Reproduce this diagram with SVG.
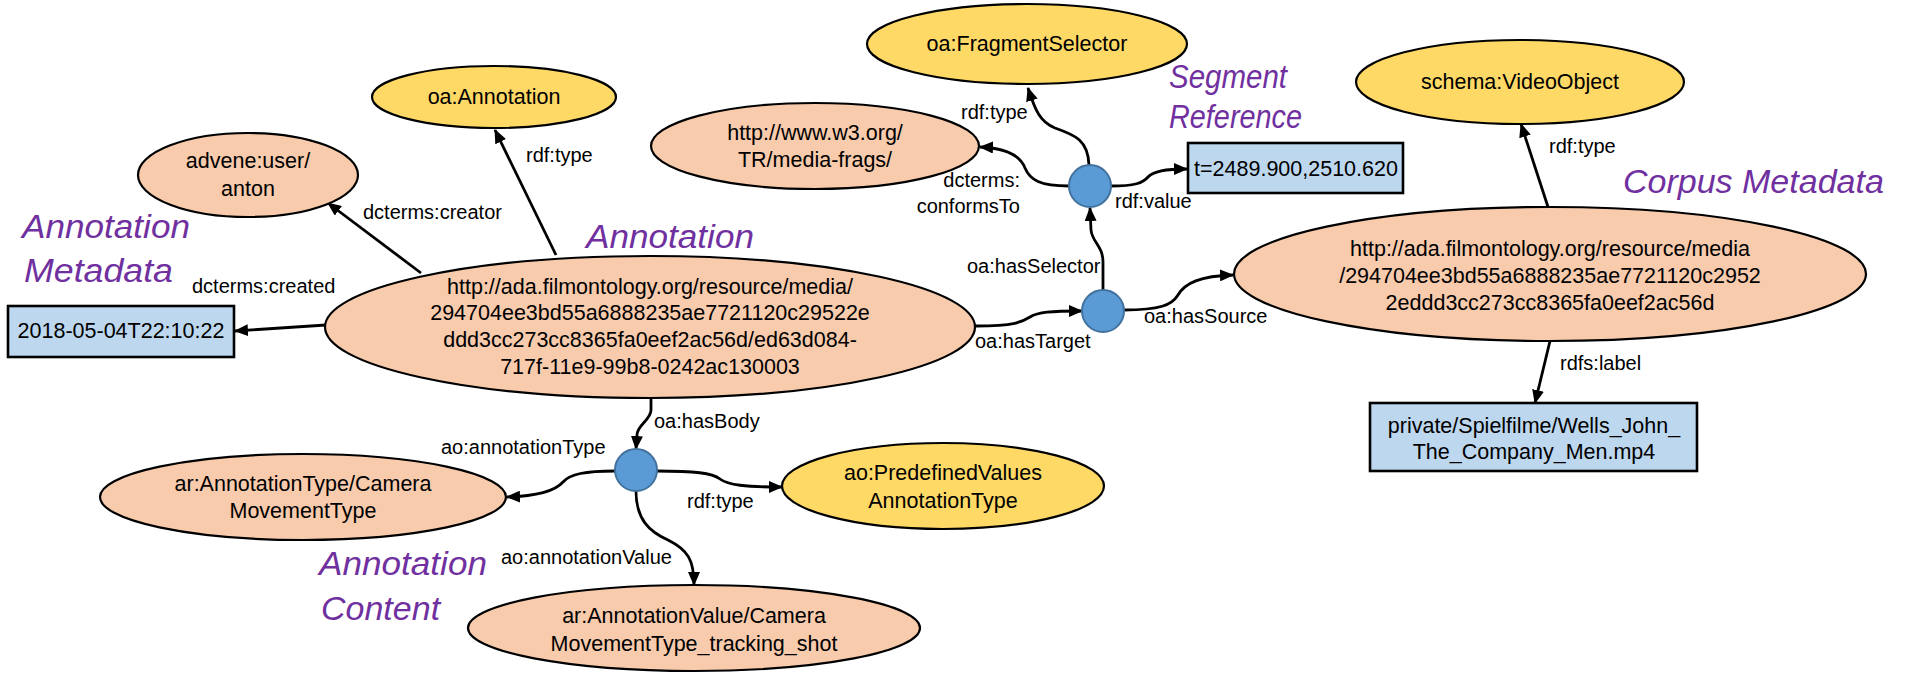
<svg xmlns="http://www.w3.org/2000/svg" width="1909" height="674" viewBox="0 0 1909 674">
<style>
.res{fill:#F8CBAD;stroke:#000;stroke-width:2.2}
.cls{fill:#FFD966;stroke:#000;stroke-width:2.2}
.lit{fill:#BDD7EE;stroke:#000;stroke-width:2.6}
.hub{fill:#5B9BD5;stroke:#41719C;stroke-width:2}
.nt{font-family:"Liberation Sans",Arial,sans-serif;font-size:21.5px;fill:#000;text-anchor:middle}
.lb{font-family:"Liberation Sans",Arial,sans-serif;font-size:20px;fill:#000}
.ttl{font-family:"Liberation Sans",Arial,sans-serif;font-size:34px;font-style:italic;fill:#7030A0}
.e{fill:none;stroke:#000;stroke-width:2.8;marker-end:url(#ah)}
</style>
<defs>
<marker id="ah" markerUnits="userSpaceOnUse" markerWidth="14" markerHeight="12" refX="13" refY="6" orient="auto">
<path d="M0,0 L14,6 L0,12 z" fill="#000"/>
</marker>
</defs>
<rect width="1909" height="674" fill="#fff"/>

<g id="connectors">
<path class="e" d="M421,273 L328,203"/>
<path class="e" d="M326,325 L235,331"/>
<path class="e" d="M556,255 L495,130"/>
<path class="e" d="M976,326 C1015,326 1022,322 1030,317 C1038,312 1050,311 1082,311"/>
<path class="e" d="M1124,310 C1160,310 1172,305 1178,295 C1185,283 1200,276 1233,275"/>
<path class="e" d="M1103,290 L1103,262 C1103,246 1092,242 1091,230 L1090,208"/>
<path class="e" d="M1089,165 C1088,140 1075,135 1055,128 C1040,122 1035,110 1028,88"/>
<path class="e" d="M1069,186 C1040,186 1030,180 1025,168 C1020,155 1005,148 980,147"/>
<path class="e" d="M1111,186 C1135,186 1143,183 1148,177 C1153,171 1165,169 1187,169"/>
<path class="e" d="M1549,210 L1521,124"/>
<path class="e" d="M1550,341 L1535,403"/>
<path class="e" d="M651,398 L651,410 C651,420 637,425 637,435 L636,449"/>
<path class="e" d="M615,471 C585,471 570,474 563,482 C556,490 540,496 507,497"/>
<path class="e" d="M657,471 C695,471 712,473 720,479 C728,485 745,487 782,487"/>
<path class="e" d="M636,491 C636,520 650,532 668,540 C688,550 694,560 694,585"/>
<text class="lb" x="363" y="219">dcterms:creator</text>
<text class="lb" x="192" y="293">dcterms:created</text>
<text class="lb" x="526" y="162">rdf:type</text>
<text class="lb" x="975" y="348">oa:hasTarget</text>
<text class="lb" x="1144" y="323">oa:hasSource</text>
<text class="lb" x="967" y="273">oa:hasSelector</text>
<text class="lb" x="961" y="119">rdf:type</text>
<text class="lb" x="1020" y="187" text-anchor="end">dcterms:</text>
<text class="lb" x="1020" y="213" text-anchor="end">conformsTo</text>
<text class="lb" x="1115" y="208">rdf:value</text>
<text class="lb" x="1549" y="153">rdf:type</text>
<text class="lb" x="1560" y="370">rdfs:label</text>
<text class="lb" x="654" y="428">oa:hasBody</text>
<text class="lb" x="441" y="454">ao:annotationType</text>
<text class="lb" x="687" y="508">rdf:type</text>
<text class="lb" x="501" y="564">ao:annotationValue</text>
</g>

<g id="title-annotation-metadata">
<text class="ttl" x="22" y="238" textLength="168" lengthAdjust="spacingAndGlyphs">Annotation</text>
<text class="ttl" x="24" y="282" textLength="149" lengthAdjust="spacingAndGlyphs">Metadata</text>
</g>
<g id="title-annotation"><text class="ttl" x="586" y="248" textLength="168" lengthAdjust="spacingAndGlyphs">Annotation</text></g>
<g id="title-segment-reference">
<text class="ttl" x="1169" y="88" textLength="118" lengthAdjust="spacingAndGlyphs">Segment</text>
<text class="ttl" x="1169" y="128" textLength="133" lengthAdjust="spacingAndGlyphs">Reference</text>
</g>
<g id="title-corpus-metadata"><text class="ttl" x="1623" y="193">Corpus Metadata</text></g>
<g id="title-annotation-content">
<text class="ttl" x="319" y="575" textLength="168" lengthAdjust="spacingAndGlyphs">Annotation</text>
<text class="ttl" x="321" y="620">Content</text>
</g>

<g id="node-annotation">
<ellipse class="res" cx="650" cy="327" rx="325" ry="71"/>
<text class="nt"><tspan x="650" y="294">http://ada.filmontology.org/resource/media/</tspan><tspan x="650" y="320">294704ee3bd55a6888235ae7721120c29522e</tspan><tspan x="650" y="347">ddd3cc273cc8365fa0eef2ac56d/ed63d084-</tspan><tspan x="650" y="374">717f-11e9-99b8-0242ac130003</tspan></text>
</g>
<g id="node-advene-user">
<ellipse class="res" cx="248" cy="175" rx="110" ry="42"/>
<text class="nt"><tspan x="248" y="168">advene:user/</tspan><tspan x="248" y="196">anton</tspan></text>
</g>
<g id="node-created">
<rect class="lit" x="8" y="306" width="226" height="51"/>
<text class="nt" x="121" y="338">2018-05-04T22:10:22</text>
</g>
<g id="node-oa-annotation">
<ellipse class="cls" cx="494" cy="97" rx="122" ry="31"/>
<text class="nt" x="494" y="104">oa:Annotation</text>
</g>
<g id="node-target-hub"><circle class="hub" cx="1103" cy="311" r="21"/></g>
<g id="node-selector-hub"><circle class="hub" cx="1090" cy="186" r="21"/></g>
<g id="node-fragment-selector">
<ellipse class="cls" cx="1027" cy="44" rx="160" ry="40"/>
<text class="nt" x="1027" y="51">oa:FragmentSelector</text>
</g>
<g id="node-media-frags">
<ellipse class="res" cx="815" cy="146" rx="164" ry="43"/>
<text class="nt"><tspan x="815" y="140">http://www.w3.org/</tspan><tspan x="815" y="167">TR/media-frags/</tspan></text>
</g>
<g id="node-time-value">
<rect class="lit" x="1188" y="143" width="215" height="50"/>
<text class="nt" x="1296" y="176">t=2489.900,2510.620</text>
</g>
<g id="node-media">
<ellipse class="res" cx="1550" cy="274" rx="316" ry="67"/>
<text class="nt"><tspan x="1550" y="256">http://ada.filmontology.org/resource/media</tspan><tspan x="1550" y="283">/294704ee3bd55a6888235ae7721120c2952</tspan><tspan x="1550" y="310">2eddd3cc273cc8365fa0eef2ac56d</tspan></text>
</g>
<g id="node-video-object">
<ellipse class="cls" cx="1520" cy="82" rx="164" ry="42"/>
<text class="nt" x="1520" y="89">schema:VideoObject</text>
</g>
<g id="node-media-label">
<rect class="lit" x="1370" y="403" width="327" height="68"/>
<text class="nt"><tspan x="1534" y="433">private/Spielfilme/Wells_John_</tspan><tspan x="1534" y="459">The_Company_Men.mp4</tspan></text>
</g>
<g id="node-body-hub"><circle class="hub" cx="636" cy="470" r="21"/></g>
<g id="node-annotation-type">
<ellipse class="res" cx="303" cy="497" rx="203" ry="43"/>
<text class="nt"><tspan x="303" y="491">ar:AnnotationType/Camera</tspan><tspan x="303" y="518">MovementType</tspan></text>
</g>
<g id="node-predefined-values">
<ellipse class="cls" cx="943" cy="486" rx="161" ry="43"/>
<text class="nt"><tspan x="943" y="480">ao:PredefinedValues</tspan><tspan x="943" y="508">AnnotationType</tspan></text>
</g>
<g id="node-annotation-value">
<ellipse class="res" cx="694" cy="628" rx="226" ry="43"/>
<text class="nt"><tspan x="694" y="623">ar:AnnotationValue/Camera</tspan><tspan x="694" y="651">MovementType_tracking_shot</tspan></text>
</g>
</svg>
